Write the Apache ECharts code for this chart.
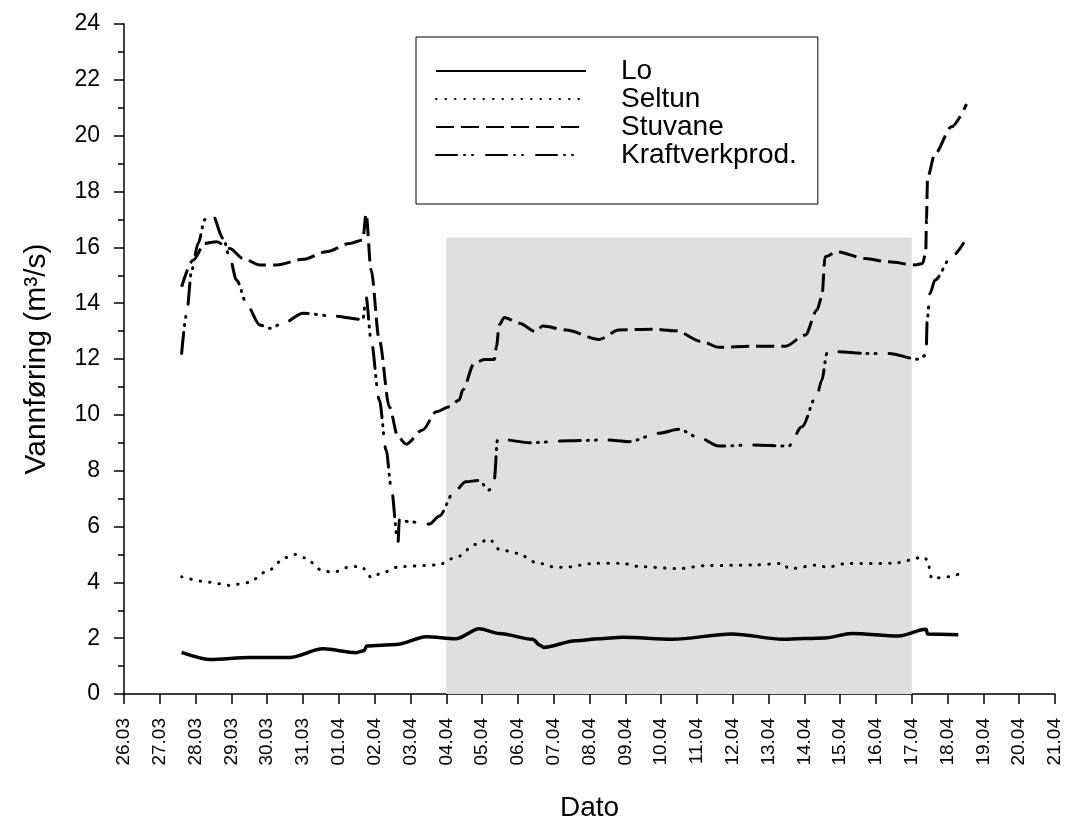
<!DOCTYPE html>
<html>
<head>
    <meta charset="utf-8">
    <title>Vannføring</title>
    <script src="https://cdn.jsdelivr.net/npm/echarts@6/dist/echarts.min.js"></script>
</head>
<body style="margin:0;background:#fff;">
<div id="main" style="width:1065px;height:833px;"></div>
<script type="text/javascript">
    // tick labels, one per day from 26.03 (day 0) to 21.04 (day 26)
    var dateLabels = ['26.03', '27.03', '28.03', '29.03', '30.03', '31.03', '01.04', '02.04', '03.04',
        '04.04', '05.04', '06.04', '07.04', '08.04', '09.04', '10.04', '11.04', '12.04', '13.04',
        '14.04', '15.04', '16.04', '17.04', '18.04', '19.04', '20.04', '21.04'];

    // x values are days since 26.03
    var loDays = [1.61, 2.40, 3.51, 4.63, 5.56, 6.48, 6.70, 6.78, 7.60, 8.44, 9.27, 9.92, 10.48, 11.41,
        11.62, 11.72, 12.62, 13.27, 13.92, 15.31, 16.98, 18.42, 19.58, 20.33, 21.63, 22.40, 22.44, 23.30];
    var loFlow = [1.49, 1.24, 1.31, 1.31, 1.62, 1.48, 1.55, 1.72, 1.77, 2.05, 1.98, 2.34, 2.17, 1.96,
        1.75, 1.67, 1.91, 1.98, 2.03, 1.96, 2.15, 1.96, 2.01, 2.17, 2.08, 2.32, 2.15, 2.12];

    var seltunDays = [1.61, 2.40, 2.95, 3.47, 3.98, 4.52, 4.78, 5.04, 5.56, 5.83, 6.36, 6.62, 6.92, 7.18,
        7.69, 8.76, 9.27, 9.83, 10.2, 10.48, 10.99, 11.53, 12.06, 12.32, 13.13, 13.9, 14.43, 15.48, 16.28,
        17.59, 18.38, 18.58, 19.38, 19.63, 20.16, 21.49, 22.0, 22.28, 22.46, 22.5, 22.55, 23.04, 23.3];
    var seltunFlow = [4.20, 4.00, 3.89, 3.99, 4.38, 4.89, 5.00, 4.88, 4.41, 4.36, 4.57, 4.57, 4.17, 4.33,
        4.56, 4.62, 4.89, 5.36, 5.55, 5.18, 5.04, 4.70, 4.54, 4.54, 4.68, 4.68, 4.56, 4.49, 4.60,
        4.62, 4.68, 4.49, 4.62, 4.54, 4.67, 4.68, 4.80, 4.92, 4.80, 4.44, 4.14, 4.20, 4.29];

    var stuvaneDays = [1.61, 1.93, 2.26, 2.58, 2.95, 3.33, 3.79, 4.26, 5.00, 5.65, 6.30, 6.67, 6.76, 6.90,
        7.13, 7.41, 7.65, 7.88, 8.34, 8.72, 9.09, 9.36, 9.46, 9.78, 10.06, 10.34, 10.40, 10.48, 10.62, 11.04,
        11.50, 11.69, 12.34, 13.27, 13.82, 14.75, 15.40, 16.15, 16.61, 17.54, 18.47, 19.03, 19.35, 19.49,
        19.58, 19.91, 20.70, 21.35, 22.09, 22.30, 22.39, 22.41, 22.44, 22.65, 23.11, 23.53];
    var stuvaneFlow = [14.59, 15.54, 16.14, 16.20, 15.96, 15.60, 15.37, 15.37, 15.57, 15.84, 16.14, 16.26, 17.20, 15.20,
        12.68, 10.29, 9.22, 8.95, 9.46, 10.11, 10.29, 10.53, 10.89, 11.84, 11.98, 11.98, 12.44, 13.22, 13.49, 13.28,
        12.98, 13.18, 13.04, 12.70, 13.04, 13.07, 13.01, 12.62, 12.42, 12.46, 12.46, 12.86, 13.75, 14.23,
        15.66, 15.84, 15.60, 15.48, 15.37, 15.42, 15.8, 17.0, 18.5, 19.36, 20.32, 21.13];

    var kraftDays = [1.61, 1.75, 1.89, 2.07, 2.26, 2.47, 2.77, 2.95, 3.14, 3.46, 3.79, 4.07, 4.44, 5.00,
        5.83, 6.67, 6.76, 6.90, 7.13, 7.32, 7.46, 7.65, 7.69, 7.97, 8.53, 8.81, 9.22, 9.55, 9.90, 10.20,
        10.34, 10.43, 10.67, 11.32, 12.43, 13.45, 14.10, 14.94, 15.50, 16.05, 16.61, 17.54, 18.56, 18.93,
        19.35, 19.49, 19.63, 19.91, 20.70, 21.35, 22.19, 22.40, 22.43, 22.51, 22.65, 23.11, 23.44];
    var kraftFlow = [12.20, 13.63, 15.19, 16.14, 17.00, 17.16, 16.32, 15.66, 14.83, 13.87, 13.22, 13.10, 13.28, 13.64,
        13.54, 13.42, 14.23, 12.68, 10.53, 8.74, 7.42, 5.40, 6.23, 6.17, 6.09, 6.38, 7.25, 7.60, 7.65, 7.31,
        7.66, 9.10, 9.10, 9.00, 9.07, 9.10, 9.04, 9.34, 9.48, 9.19, 8.88, 8.92, 8.88, 9.57,
        10.71, 11.25, 12.20, 12.26, 12.20, 12.20, 11.99, 12.14, 13.40, 14.35, 14.83, 15.66, 16.14];

    // shaded period 04.04 - 17.04
    var periodStart = 9;
    var periodEnd = 22;
    var periodTop = 16.35;

    function pairs(xs, ys) {
        return xs.map(function (x, i) { return [x, ys[i]]; });
    }

    var chartDom = document.getElementById('main');
    var myChart = echarts.init(chartDom);
    var font = 'Liberation Sans, Arial, sans-serif';

    function lineSeries(name, xs, ys, style) {
        return {
            name: name,
            type: 'line',
            data: pairs(xs, ys),
            showSymbol: false,
            symbol: 'none',
            smooth: 0.3,
            smoothMonotone: 'x',
            z: 3,
            itemStyle: { color: '#000' },
            lineStyle: style
        };
    }

    var option = {
        animation: false,
        backgroundColor: '#fff',
        textStyle: { fontFamily: font, color: '#000' },
        grid: { left: 124, right: 10, top: 24, bottom: 139 },
        legend: {
            data: ['Lo', 'Seltun', 'Stuvane', 'Kraftverkprod.'],
            orient: 'vertical',
            left: 416,
            top: 37,
            padding: [20, 21, 35, 19],
            borderColor: '#000',
            borderWidth: 1,
            itemWidth: 150,
            itemHeight: 14,
            itemGap: 0,
            itemStyle: { opacity: 0 },
            textStyle: { fontSize: 28, color: '#000', lineHeight: 27, padding: [0, 0, 0, 30], fontFamily: font }
        },
        xAxis: {
            type: 'value',
            min: 0,
            max: 26,
            interval: 1,
            name: 'Dato',
            nameLocation: 'middle',
            nameGap: 100,
            nameTextStyle: { fontSize: 28, color: '#000', fontFamily: font },
            axisLine: { lineStyle: { color: '#000', width: 1.5 } },
            axisTick: { length: 10, lineStyle: { color: '#000', width: 1.5 } },
            axisLabel: {
                rotate: 90,
                margin: 24,
                fontSize: 19,
                color: '#000',
                fontFamily: font,
                formatter: function (v) { return dateLabels[Math.round(v)]; }
            },
            splitLine: { show: false }
        },
        yAxis: {
            type: 'value',
            min: 0,
            max: 24,
            interval: 2,
            name: 'Vannføring (m³/s)',
            nameLocation: 'middle',
            nameGap: 72,
            nameTextStyle: { fontSize: 30, color: '#000', fontFamily: font },
            axisLine: { show: true, lineStyle: { color: '#000', width: 1.5 } },
            axisTick: { show: true, length: 10, lineStyle: { color: '#000', width: 1.5 } },
            minorTick: { show: true, splitNumber: 2, length: 6, lineStyle: { color: '#000', width: 1.5 } },
            axisLabel: { margin: 24, fontSize: 23, color: '#000', fontFamily: font },
            splitLine: { show: false }
        },
        series: [
            {
                name: 'period',
                type: 'line',
                data: [],
                z: 1,
                silent: true,
                markArea: {
                    silent: true,
                    itemStyle: { color: '#dfdfdf' },
                    data: [[{ coord: [periodStart, 0] }, { coord: [periodEnd, periodTop] }]]
                }
            },
            lineSeries('Lo', loDays, loFlow, { color: '#000', width: 3.5 }),
            lineSeries('Seltun', seltunDays, seltunFlow, { color: '#000', width: 3, type: [0.5, 9], cap: 'round' }),
            lineSeries('Stuvane', stuvaneDays, stuvaneFlow, { color: '#000', width: 3, type: [18, 7] }),
            lineSeries('Kraftverkprod.', kraftDays, kraftFlow, { color: '#000', width: 3, type: [21, 7, 1, 7, 1, 13], cap: 'round' })
        ]
    };

    if (option && typeof option === 'object') {
        myChart.setOption(option);
    }
</script>
</body>
</html>
